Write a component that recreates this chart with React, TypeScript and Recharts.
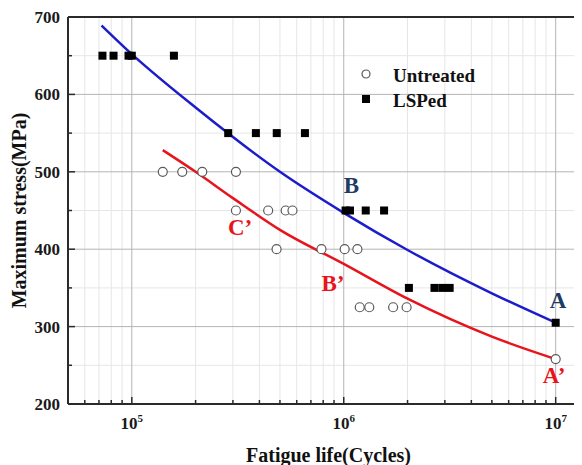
import React from 'react';
import {
  ComposedChart,
  XAxis,
  YAxis,
  Line,
  Scatter,
  ReferenceLine,
  ReferenceDot,
  Legend,
  Label,
} from 'recharts';

// ---------- data ----------
const seriesNames = ['Untreated', 'LSPed'];

const untreatedCycles = [
  140e3, 173e3, 215e3, 310e3,
  310e3, 440e3, 532e3, 573e3,
  482e3, 785e3, 1.01e6, 1.16e6,
  1.19e6, 1.32e6, 1.71e6, 1.98e6,
  1e7,
];
const untreatedStress = [
  500, 500, 500, 500,
  450, 450, 450, 450,
  400, 400, 400, 400,
  325, 325, 325, 325,
  258,
];

const lspedCycles = [
  72.7e3, 82e3, 96.5e3, 100e3, 158e3,
  285e3, 385e3, 483e3, 656e3,
  1.02e6, 1.07e6, 1.27e6, 1.55e6,
  2.03e6, 2.68e6, 2.92e6, 3.16e6,
  1e7,
];
const lspedStress = [
  650, 650, 650, 650, 650,
  550, 550, 550, 550,
  450, 450, 450, 450,
  350, 350, 350, 350,
  305,
];

const lspedFitCycles = [7.2e4, 1e5, 2e5, 5e5, 1e6, 2e6, 5e6, 1e7];
const lspedFitStress = [689, 652, 583, 500, 447, 399, 343, 305];

const untreatedFitCycles = [1.4e5, 2e5, 3e5, 5e5, 1e6, 2e6, 5e6, 1e7];
const untreatedFitStress = [528, 500, 466, 425, 381, 336, 287, 258];

const xMajorTicks = [1e5, 1e6, 1e7];
const xMinorTicks = [
  6e4, 7e4, 8e4, 9e4,
  2e5, 3e5, 4e5, 5e5, 6e5, 7e5, 8e5, 9e5,
  2e6, 3e6, 4e6, 5e6, 6e6, 7e6, 8e6, 9e6,
];
const yMajorTicks = [200, 300, 400, 500, 600, 700];
const yMinorTicks = [250, 350, 450, 550, 650];

const annotationTexts = ['A', 'B', 'A\u2019', 'B\u2019', 'C\u2019'];
const annotationCycles = [9.38e6, 1.0e6, 8.69e6, 7.85e5, 2.84e5];
const annotationStress = [324, 472, 226.5, 346.5, 418];
const annotationSeries = ['LSPed', 'LSPed', 'Untreated', 'Untreated', 'Untreated'];

// ---------- assembled tables ----------
const untreatedData = untreatedCycles.map((n, i) => ({ n, s: untreatedStress[i] }));
const lspedData = lspedCycles.map((n, i) => ({ n, s: lspedStress[i] }));
const lspedFit = lspedFitCycles.map((n, i) => ({ n, s: lspedFitStress[i] }));
const untreatedFit = untreatedFitCycles.map((n, i) => ({ n, s: untreatedFitStress[i] }));
const annotations = annotationTexts.map((t, i) => ({
  t,
  n: annotationCycles[i],
  s: annotationStress[i],
  series: annotationSeries[i],
}));

// ---------- styles ----------
const FONT = '"Liberation Serif", "Times New Roman", serif';
const AXIS = '#2a2a2a';
const BLUE = '#1c1ccc';
const RED = '#e8141c';
const NAVY = '#1d3b66';
const MAJOR_GRID = '#b4b4b4';
const MINOR_GRID = '#e6e6e6';

const vGridShape = (color: string, tick: number) => (p: any) => {
  const bottom = Math.max(p.y1, p.y2);
  return (
    <g>
      <line x1={p.x1} x2={p.x2} y1={p.y1} y2={p.y2} stroke={color} strokeWidth={1} />
      <line x1={p.x1} x2={p.x1} y1={bottom} y2={bottom - tick} stroke={AXIS} strokeWidth={1.5} />
    </g>
  );
};

const hGridShape = (color: string, tick: number, width = 1) => (p: any) => {
  const left = Math.min(p.x1, p.x2);
  return (
    <g>
      <line x1={p.x1} x2={p.x2} y1={p.y1} y2={p.y2} stroke={color} strokeWidth={width} />
      <line x1={left} x2={left + tick} y1={p.y1} y2={p.y1} stroke={AXIS} strokeWidth={1.5} />
    </g>
  );
};

const XTick = (props: any) => {
  const { x, y, payload } = props;
  const exp = Math.round(Math.log10(payload.value));
  return (
    <text x={x} y={y} textAnchor="middle" fontFamily={FONT} fontWeight="bold" fontSize={17} fill="#1a1a1a">
      10
      <tspan dy={-7} fontSize={11}>
        {exp}
      </tspan>
    </text>
  );
};

const YTick = (props: any) => {
  const { x, y, payload } = props;
  return (
    <text x={x} y={y} dy={6} textAnchor="end" fontFamily={FONT} fontWeight="bold" fontSize={17} fill="#1a1a1a">
      {payload.value}
    </text>
  );
};

const circleShape = (p: any) => (
  <circle cx={p.cx} cy={p.cy} r={4.5} fill="#fff" stroke="#5a5a5a" strokeWidth={1.2} />
);
const squareShape = (p: any) => <rect x={p.cx - 4} y={p.cy - 4} width={8} height={8} fill="#000" />;

const annotationShape = (a: { t: string; series: string }) => (p: any) => (
  <text
    x={p.cx}
    y={p.cy}
    textAnchor="start"
    fontFamily={FONT}
    fontWeight="bold"
    fontSize={23}
    fill={a.series === 'LSPed' ? NAVY : RED}
  >
    {a.t}
  </text>
);

const LegendContent = () => (
  <svg width={140} height={52}>
    <circle cx={8} cy={10} r={4} fill="#fff" stroke="#5a5a5a" strokeWidth={1.2} />
    <text x={35} y={17.5} fontFamily={FONT} fontWeight="bold" fontSize={19} fill="#111">
      {seriesNames[0]}
    </text>
    <rect x={4} y={31} width={8} height={8} fill="#000" />
    <text x={35} y={42.5} fontFamily={FONT} fontWeight="bold" fontSize={19} fill="#111">
      {seriesNames[1]}
    </text>
  </svg>
);

export default function App() {
  return (
    <div style={{ width: 574, height: 457, overflow: 'hidden' }}>
      <ComposedChart width={620} height={457} margin={{ top: 9, right: 35, left: 0, bottom: 0 }}>
        <XAxis
          dataKey="n"
          type="number"
          scale="log"
          domain={[5e4, 1.5e7]}
          allowDataOverflow
          ticks={xMajorTicks}
          tick={<XTick />}
          tickLine={false}
          tickSize={0}
          tickMargin={25}
          height={61}
          axisLine={{ stroke: AXIS, strokeWidth: 2 }}
        >
          <Label
            content={(p: any) => {
              const vb = p.viewBox;
              return (
                <text
                  x={vb.x + vb.width / 2 - 2}
                  y={vb.y + 58}
                  textAnchor="middle"
                  fontFamily={FONT}
                  fontWeight="bold"
                  fontSize={20}
                  fill="#111"
                >
                  Fatigue life(Cycles)
                </text>
              );
            }}
          />
        </XAxis>
        <YAxis
          dataKey="s"
          type="number"
          domain={[200, 700]}
          allowDataOverflow
          ticks={yMajorTicks}
          tick={<YTick />}
          tickLine={false}
          tickSize={0}
          tickMargin={8}
          width={60}
          axisLine={{ stroke: AXIS, strokeWidth: 2 }}
        >
          <Label
            content={(p: any) => {
              const vb = p.viewBox;
              const cx = vb.x + 10.5;
              const cy = vb.y + vb.height / 2;
              return (
                <text
                  x={cx}
                  y={cy}
                  transform={`rotate(-90 ${cx} ${cy})`}
                  textAnchor="middle"
                  dominantBaseline="central"
                  fontFamily={FONT}
                  fontWeight="bold"
                  fontSize={20}
                  fill="#111"
                >
                  Maximum stress(MPa)
                </text>
              );
            }}
          />
        </YAxis>

        {xMinorTicks.map((v) => (
          <ReferenceLine key={'xm' + v} x={v} shape={vGridShape(MINOR_GRID, 4)} />
        ))}
        {yMinorTicks.map((v) => (
          <ReferenceLine key={'ym' + v} y={v} shape={hGridShape(MINOR_GRID, 4)} />
        ))}
        {xMajorTicks.map((v) => (
          <ReferenceLine key={'xM' + v} x={v} shape={vGridShape(MAJOR_GRID, 7)} />
        ))}
        {yMajorTicks.slice(1, -1).map((v) => (
          <ReferenceLine key={'yM' + v} y={v} shape={hGridShape(MAJOR_GRID, 7)} />
        ))}
        <ReferenceLine y={yMajorTicks[yMajorTicks.length - 1]} stroke={AXIS} strokeWidth={2} />

        <Scatter name={seriesNames[0]} data={untreatedData} dataKey="s" shape={circleShape} isAnimationActive={false} />
        <Scatter name={seriesNames[1]} data={lspedData} dataKey="s" shape={squareShape} isAnimationActive={false} />

        <Line
          data={lspedFit}
          dataKey="s"
          type="monotone"
          stroke={BLUE}
          strokeWidth={2.5}
          dot={false}
          activeDot={false}
          isAnimationActive={false}
          legendType="none"
        />
        <Line
          data={untreatedFit}
          dataKey="s"
          type="monotone"
          stroke={RED}
          strokeWidth={2.5}
          dot={false}
          activeDot={false}
          isAnimationActive={false}
          legendType="none"
        />

        {annotations.map((a) => (
          <ReferenceDot key={a.t} x={a.n} y={a.s} r={0} shape={annotationShape(a)} />
        ))}

        <Legend
          layout="vertical"
          verticalAlign="middle"
          align="center"
          wrapperStyle={{ position: 'absolute', left: 350, top: 56, width: 140, height: 52 }}
          content={<LegendContent />}
        />
      </ComposedChart>
    </div>
  );
}
